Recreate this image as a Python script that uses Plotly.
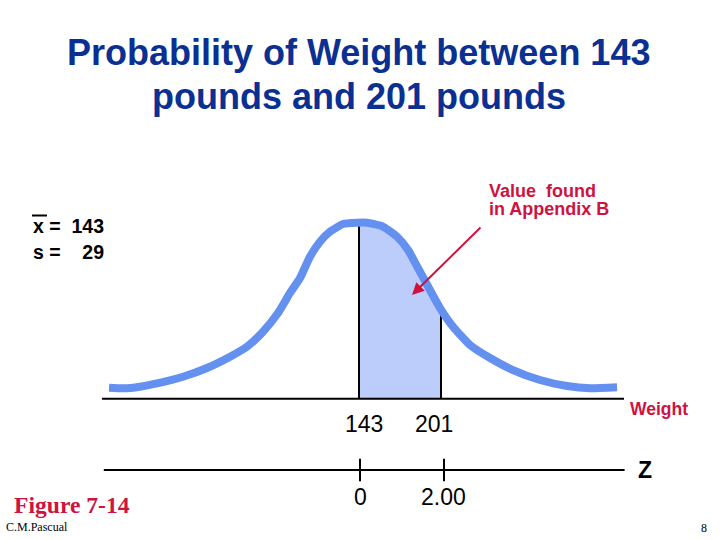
import plotly.graph_objects as go

mean_weight = 143
sd_weight = 29

curve_weight = [-33.8, -23.9, -11.9, 0.1, 18.5, 35.5, 51.8, 63.8, 75.1, 85.7, 94.2, 101.3, 108.3, 115.4,
                122.5, 131.7, 141.6, 148.7, 159.3, 169.9, 177.7, 184.7, 193.2, 200.3, 209.5, 221.5,
                235.7, 251.9, 271, 290.1, 306.4, 325.5]
curve_density = [.00086, .00081, .00094, .00120, .00172, .00240, .00328, .00407, .00524, .00670, .00827,
                 .00944, .01110, .01228, .01306, .01366, .01376, .01376, .01350, .01267, .01163, .01022,
                 .00850, .00709, .00563, .00420, .00318, .00224, .00146, .00099, .00081, .00089]

shade_weight = [143, 148.7, 159.3, 169.9, 177.7, 184.7, 193.2, 201, 201, 143]
shade_density = [.01376, .01376, .01350, .01267, .01163, .01022, .00850, .00700, 0, 0]

bound_weights = [143, 201]
bound_density = [.01376, .00700]
weight_line = [-38.8, 330.4]
z_line = [-6.1, 6.3]
z_ticks = [0, 2.00]

NAVY = "#0A3092"
CRIMSON = "#CF1240"
CURVE = "#6490F0"
SHADE = "#BDCDFB"

fig = go.Figure()
fig.add_trace(go.Scatter(x=shade_weight, y=shade_density, mode="lines", fill="toself",
                         fillcolor=SHADE, line={"width": 0}))
for w, d in zip(bound_weights, bound_density):
    fig.add_trace(go.Scatter(x=[w, w], y=[0, d], mode="lines", line={"color": "black", "width": 2}))
fig.add_trace(go.Scatter(x=weight_line, y=[0, 0], mode="lines", line={"color": "black", "width": 2}))
fig.add_trace(go.Scatter(x=curve_weight, y=curve_density, mode="lines",
                         line={"color": CURVE, "width": 8, "shape": "spline", "smoothing": 0.5}))

# z scale shares the page with the weight scale, lower down
fig.add_trace(go.Scatter(x=z_line, y=[0, 0], xaxis="x2", yaxis="y2", mode="lines",
                         line={"color": "black", "width": 2}))
fig.add_trace(go.Scatter(x=z_ticks, y=[0, 0], xaxis="x2", yaxis="y2", mode="markers",
                         marker={"symbol": "line-ns", "size": 16, "line": {"color": "black", "width": 2}}))


def label(text, x, y, size, color="black", family="Liberation Sans", bold=True, anchor="center"):
    fig.add_annotation(x=x / 720, y=1 - y / 540, xref="paper", yref="paper", text=f"<b>{text}</b>" if bold else text,
                       showarrow=False, xanchor=anchor, yanchor="middle",
                       font={"family": family, "size": size, "color": color})


label("Probability of Weight between 143", 358.5, 52, 36, NAVY)
label("pounds and 201 pounds", 358.5, 97, 36, NAVY)
label("Value  found", 487, 191, 18, CRIMSON, anchor="left")
label("in Appendix B", 487, 209, 18, CRIMSON, anchor="left")
label("x =  143", 31, 226, 19.5, anchor="left")
label("s =    29", 31, 252, 19.5, anchor="left")
label("143", 364, 424, 23, bold=False)
label("201", 434, 424, 23, bold=False)
label("0", 360, 497, 23, bold=False)
label("2.00", 443, 497, 23, bold=False)
label("Weight", 659, 409, 17.5, CRIMSON)
label("Z", 645, 470, 23)
label("Figure 7-14", 72, 505, 23.6, CRIMSON, family="Liberation Serif")
label("C.M.Pascual", 4, 527, 12, family="Liberation Serif", bold=False, anchor="left")
label("8", 704, 528, 12, family="Liberation Serif", bold=False)

fig.add_annotation(x=412 / 720, y=1 - 295 / 540, ax=70, ay=-69, xref="paper", yref="paper", axref="pixel", ayref="pixel",
                   text="", showarrow=True, arrowhead=2, arrowsize=1.2, arrowwidth=2, arrowcolor=CRIMSON)
fig.add_shape(type="line", xref="paper", yref="paper", x0=32 / 720, x1=47 / 720, y0=1 - 215.5 / 540, y1=1 - 215.5 / 540,
              line={"color": "black", "width": 2})

hidden = {"visible": False}
fig.update_layout(
    width=720,
    height=540,
    margin={"l": 0, "r": 0, "t": 0, "b": 0},
    paper_bgcolor="white",
    plot_bgcolor="white",
    showlegend=False,
    xaxis={**hidden, "range": [-110.9, 398.3]},
    yaxis={**hidden, "range": [-0.01105, 0.03118]},
    xaxis2={**hidden, "range": [-8.571, 8.571], "overlaying": "x", "anchor": "y2"},
    yaxis2={**hidden, "range": [-70, 470], "overlaying": "y", "anchor": "x2"},
)

# the page's default body margin would push the figure 8px off
fig.write_html("out.html", config={"displayModeBar": False}, post_script="document.body.style.margin='0';")
